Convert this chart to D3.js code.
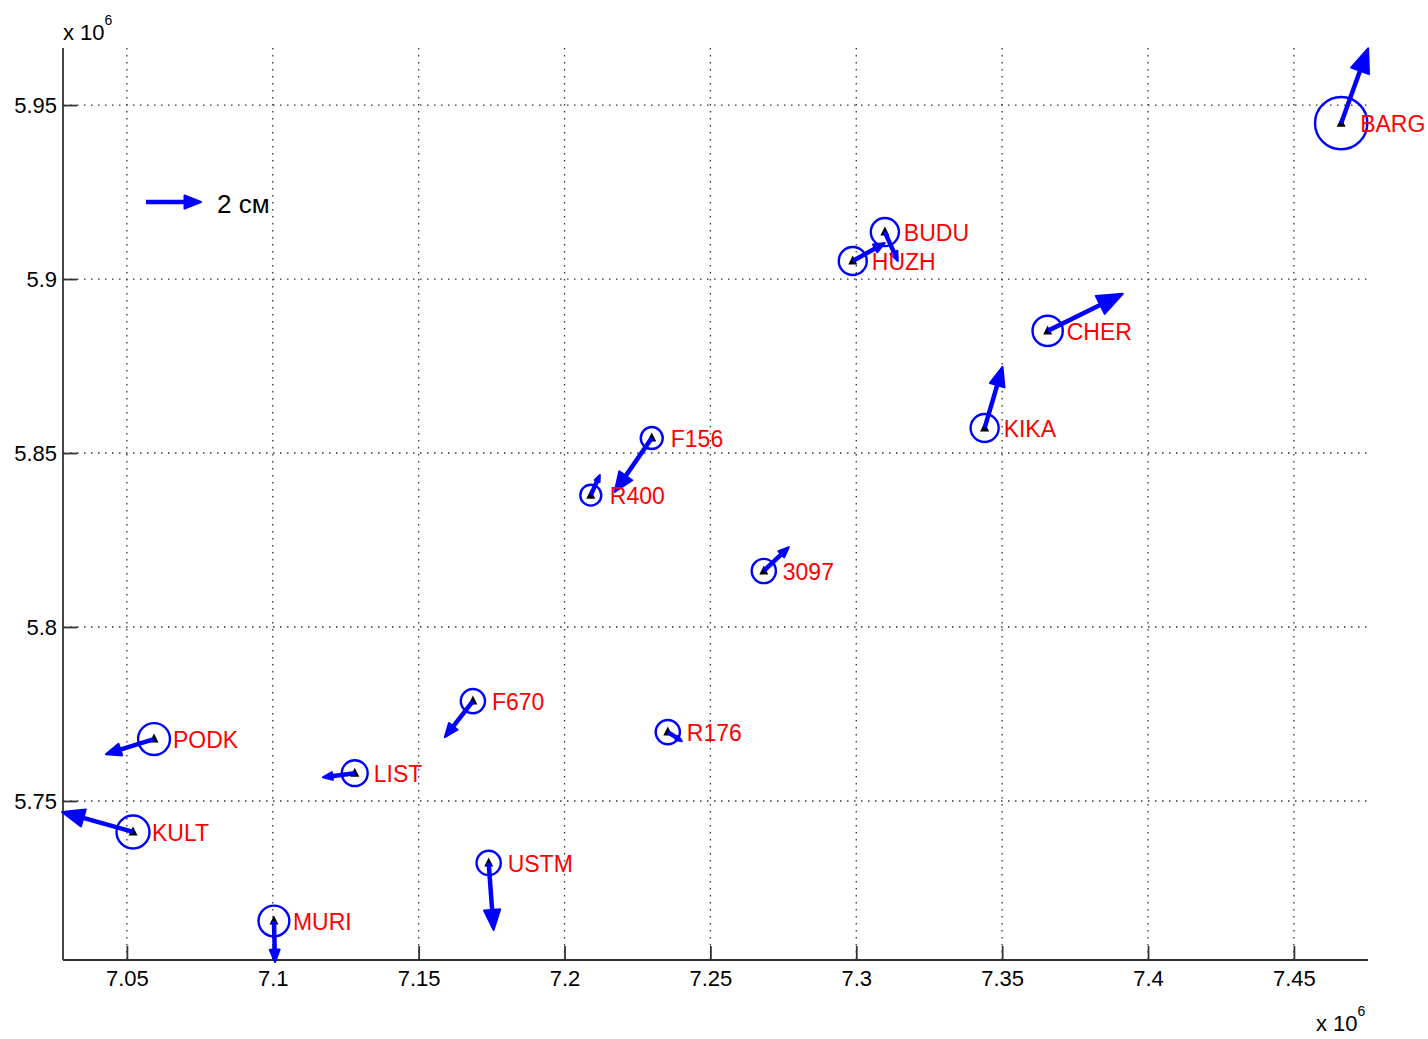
<!DOCTYPE html>
<html>
<head>
<meta charset="utf-8">
<script src="https://cdn.jsdelivr.net/npm/d3@7"></script>
<style>
  body { margin: 0; background: #fff; }
  text { font-family: "Liberation Sans", Arial, sans-serif; }
</style>
</head>
<body>
<div id="chart"></div>
<script>
// Станции: координаты (м), скорости (см, восток/север), радиус ошибки (см)
const names = ["BARG", "BUDU", "HUZH", "CHER", "KIKA", "F156", "R400", "3097",
  "R176", "PODK", "KULT", "MURI", "LIST", "F670", "USTM"];
const east = [7.4662e6, 7.3098e6, 7.2988e6, 7.3656e6, 7.3440e6, 7.2299e6, 7.2090e6, 7.2683e6,
  7.2354e6, 7.0593e6, 7.0521e6, 7.1004e6, 7.1281e6, 7.1686e6, 7.1740e6];
const north = [5.9448e6, 5.9135e6, 5.9052e6, 5.8851e6, 5.8572e6, 5.8543e6, 5.8379e6, 5.8161e6,
  5.7698e6, 5.7678e6, 5.7411e6, 5.7155e6, 5.7580e6, 5.7787e6, 5.7322e6];
const ve = [0.98, 0.47, 1.16, 2.73, 0.65, -1.35, 0.33, 0.91, 0.51, -1.75, -2.58, 0.04, -1.16, -1.02, 0.18];
const vn = [2.72, -1.05, 0.65, 1.35, 2.22, -1.96, 0.73, 0.87, -0.33, -0.55, 0.73, -1.49, -0.15, -1.31, -2.44];
const err = [0.95, 0.51, 0.51, 0.55, 0.51, 0.40, 0.38, 0.44, 0.44, 0.58, 0.60, 0.56, 0.47, 0.44, 0.44];

const xTicks = [7.05e6, 7.1e6, 7.15e6, 7.2e6, 7.25e6, 7.3e6, 7.35e6, 7.4e6, 7.45e6];
const yTicks = [5.75e6, 5.8e6, 5.85e6, 5.9e6, 5.95e6];
const scaleRef = 2; // см

const W = 1428, H = 1039;
const plot = { left: 63, right: 1368, top: 48, bottom: 960 };

const x = d3.scaleLinear().domain([7.0281e6, 7.4754e6]).range([plot.left, plot.right]);
const y = d3.scaleLinear().domain([5.7043e6, 5.9664e6]).range([plot.bottom, plot.top]);
const cm = d3.scaleLinear().domain([0, 2]).range([0, 55]);

const svg = d3.select("#chart").append("svg").attr("width", W).attr("height", H);

const fmt = (d) => String(+(d / 1e6).toFixed(2));

// сетка
svg.append("g")
  .selectAll("line")
  .data(xTicks)
  .join("line")
  .attr("x1", (d) => x(d)).attr("x2", (d) => x(d))
  .attr("y1", plot.top).attr("y2", plot.bottom)
  .attr("stroke", "#333").attr("stroke-width", 1.3)
  .attr("stroke-dasharray", "1.5,5.5");

svg.append("g")
  .selectAll("line")
  .data(yTicks)
  .join("line")
  .attr("y1", (d) => y(d)).attr("y2", (d) => y(d))
  .attr("x1", plot.left).attr("x2", plot.right)
  .attr("stroke", "#333").attr("stroke-width", 1.3)
  .attr("stroke-dasharray", "1.5,5.5");

// оси
const xAxis = svg.append("g")
  .attr("transform", `translate(0,${plot.bottom})`)
  .call(d3.axisBottom(x).tickValues(xTicks).tickFormat(fmt).tickSizeInner(-14).tickSizeOuter(0).tickPadding(10));
const yAxis = svg.append("g")
  .attr("transform", `translate(${plot.left},0)`)
  .call(d3.axisLeft(y).tickValues(yTicks).tickFormat(fmt).tickSizeInner(-14).tickSizeOuter(0).tickPadding(6));

[xAxis, yAxis].forEach((g) => {
  g.select(".domain").attr("stroke", "#333").attr("stroke-width", 1.8);
  g.selectAll(".tick line").attr("stroke", "#333").attr("stroke-width", 1.8);
  g.selectAll(".tick text").attr("fill", "#000").style("font-size", "22px")
    .style("font-family", "'Liberation Sans', Arial, sans-serif");
});
xAxis.selectAll(".tick text").attr("dy", "0.74em");
yAxis.select(".domain").attr("d", `M0,${plot.top}V${plot.bottom}`);
xAxis.select(".domain").attr("d", `M${plot.left},0H${plot.right}`);

// множители x 10^6
function exponent(px, py) {
  const t = svg.append("text").attr("x", px).attr("y", py)
    .attr("fill", "#000").style("font-size", "22px");
  t.append("tspan").text("x 10");
  t.append("tspan").attr("dy", -15).style("font-size", "14px").text("6");
}
exponent(63, 40);
exponent(1316, 1031);

// стрелка
function arrow(g, x0, y0, x1, y1, width) {
  const dx = x1 - x0, dy = y1 - y0;
  const len = Math.hypot(dx, dy);
  if (len < 0.5) return;
  const ux = dx / len, uy = dy / len;
  const hl = Math.max(6, 0.3 * len), hw = hl * 0.4;
  const bx = x1 - ux * hl, by = y1 - uy * hl;
  g.append("line")
    .attr("x1", x0).attr("y1", y0).attr("x2", bx + ux * 1).attr("y2", by + uy * 1)
    .attr("stroke", "#0000ff").attr("stroke-width", width).attr("stroke-linecap", "butt");
  g.append("path")
    .attr("d", `M${x1},${y1}L${bx - uy * hw},${by + ux * hw}L${bx + uy * hw},${by - ux * hw}Z`)
    .attr("fill", "#0000ff").attr("stroke", "#0000ff").attr("stroke-width", 2)
    .attr("stroke-linejoin", "round");
}

// масштаб
const legend = svg.append("g");
arrow(legend, 146, 202, 146 + cm(scaleRef), 202, 4.5);
svg.append("text").attr("x", 217).attr("y", 213)
  .attr("fill", "#000").style("font-size", "26px").text(`${scaleRef} см`);

// станции
const marks = svg.append("g");
names.forEach((n, i) => {
  const cx = x(east[i]), cy = y(north[i]);
  marks.append("circle")
    .attr("cx", cx).attr("cy", cy).attr("r", cm(err[i]))
    .attr("fill", "none").attr("stroke", "#0000ff").attr("stroke-width", 2.4);
});
names.forEach((n, i) => {
  const cx = x(east[i]), cy = y(north[i]);
  marks.append("path")
    .attr("d", `M${cx},${cy - 5.5}L${cx + 4.5},${cy + 3.5}L${cx - 4.5},${cy + 3.5}Z`)
    .attr("fill", "#000");
  arrow(marks, cx, cy, cx + cm(ve[i]), cy - cm(vn[i]), 4.5);
});
names.forEach((n, i) => {
  const cx = x(east[i]), cy = y(north[i]);
  marks.append("text")
    .attr("x", cx + 19).attr("y", cy + 9)
    .attr("fill", "#ff0000").style("font-size", "23px")
    .text(n);
});
</script>
</body>
</html>
